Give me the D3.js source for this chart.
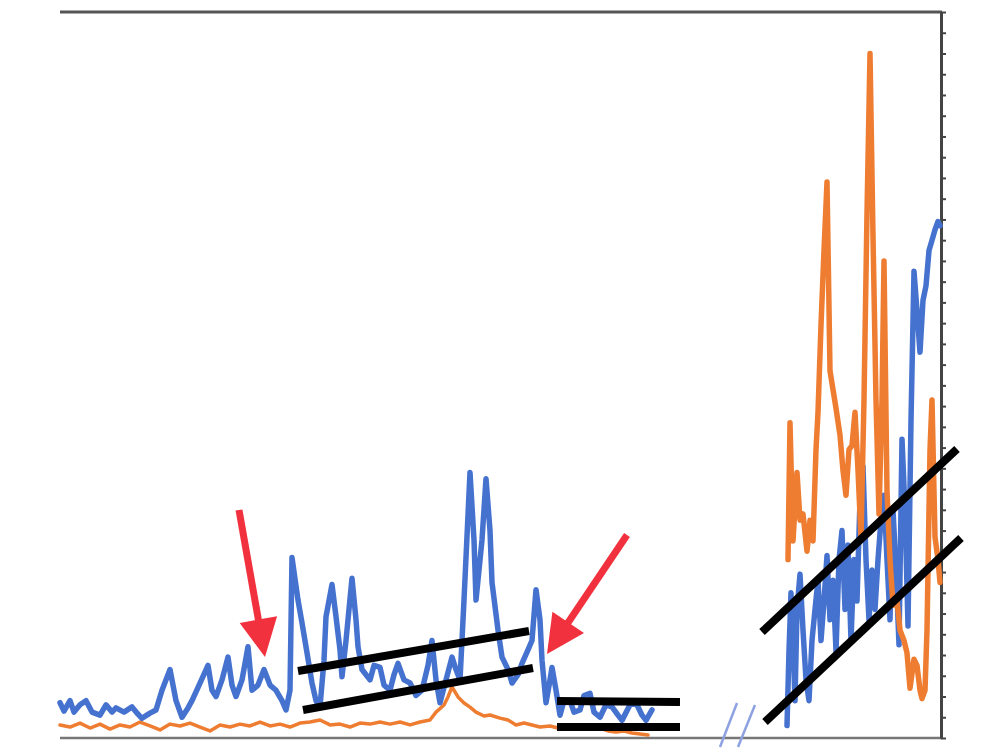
<!DOCTYPE html>
<html>
<head>
<meta charset="utf-8">
<script src="https://cdn.jsdelivr.net/npm/d3@7"></script>
<style>
  html, body { margin: 0; padding: 0; background: #fff; }
  svg { display: block; }
</style>
</head>
<body>
<svg id="chart" width="1000" height="750"></svg>
<script>
// left segment (before the axis break), time index vs value
const leftBlueT = [0,2,5,7,10,13,16,20,23,26,28,32,36,39,41,45,48,51,55,58,61,64,66,70,74,76,78,81,84,86,88,91,94,96,99,102,105,108,111,113,115,116,119,121,123,126,128,130,132,133,136,138,140,141,143,146,148,149,151,155,157,160,162,165,167,169,172,175,178,181,184,186,188,190,193,196,198,200,202,205,207,208,211,213,215,216,219,221,224,226,229,231,234,236,238,240,241,243,245,246,248,250,252,255,257,260,262,265,267,270,273,276,279,281,285,288,291,293,296];
const leftBlue = [17,13,18,12.5,16,18,12.5,11,16,12.5,14.5,12.5,15,11.5,9.5,12,13.5,23,33,18,10,14.5,18,26.5,35,23,20,28,39,25.5,20,28,44,23,25.5,33,25.5,23,18,13.5,23,87,66.5,55.5,44,26.5,18,15,37.5,58.5,74,58.5,42.5,29.5,47,77,57,44,33,28,35,34,25.5,23,30.5,36,28,26.5,20.5,23,35,47,28,17,28,39,33,28,66.5,128,95.5,66.5,95.5,125,100,75,52,39,33,26.5,30.5,36,42.5,47,71.5,57,37.5,17,28,34,23,11,18,18,12.5,13.5,20.5,21.5,12.5,10,16,15,11,8.5,16,17,11,8.5,13.5];

const leftOrangeT = [0,5,10,15,20,25,30,35,40,45,50,55,60,65,70,75,80,85,90,95,100,105,110,115,120,125,130,135,140,145,150,155,160,165,170,175,180,185,188,192,194,196,199,202,205,208,212,215,220,224,228,232,236,240,245,249,254,258,262,266,270,274,278,282,286,290,294];
const leftOrange = [6.3,5.3,7.2,4.8,6.7,4.3,6.3,5.3,7.7,5.8,3.9,6.7,5.8,7.2,5.3,3.4,6.3,5.3,6.7,5.8,7.7,5.8,6.7,5.3,7.2,7.7,8.7,6.3,6.7,5.3,7.2,6.7,7.7,6.7,7.7,6.3,7.7,8.7,12.5,15.9,19.8,24.6,19.8,16.9,14.9,12.5,10.6,11.1,9.6,8.7,6.3,7.2,6.3,5.3,5.8,4.8,5.3,4.3,5.3,4.3,4.8,3.4,2.9,3.4,2.4,1.9,1.4];

// right segment (after the axis break)
const rightBlueT = [0,1,2,3,4,5,6.5,8,9.5,11,12.5,14,15.5,17,18.5,20,21.5,23,24.5,26,27.5,29,30.5,32,33.5,35,36.5,38,39.5,41,42.5,44,45.5,47,48.5,50,51.5,53,54.5,56,57.5,59,60.5,62,63.5,65,66.5,68,69.5,71,72.5,74,75.5,76.5];
const rightBlue = [6,42,70,47,18,62,79,52,28,18,47,62,76,47,66,88,57,76,42,86,100,62,93,47,86,66,115,131,86,57,81,62,86,105,117,86,57,110,81,45,144,110,54,153,225,206,186,211,218,235,240,245,249,247];

const rightOrangeT = [0.5,1.5,3,5,6.5,8,10,11.5,13,14.5,15.5,17,18.5,20,21.5,23,24.5,26.5,28,29.5,31,32.5,34,35.5,37,38.5,40,41.5,43,44.5,46,47.5,48.5,50,51.5,53,55,56.5,58.5,60,61.5,63.5,65,66.5,67.5,69,70,71.5,72.5,74,75.5,76.5];
const rightOrange = [86,152,95,128,105,108,90,105,95,139,157,199,235,268,177,168,159,146,129,117,139,141,157,129,97,163,253,330,242,163,108,163,230,119,86,64,66,52,47,41,24,38,35,23,19,23,52,139,163,97,86,75];

const yTicks = d3.range(0, 351, 10);

const svg = d3.select('#chart');

const y = d3.scaleLinear().domain([0, 350]).range([738, 12]),
  xLeft = d3.scaleLinear().domain([0, 296]).range([60, 652]),
  xRight = d3.scaleLinear().domain([0, 76.5]).range([787, 940]);

const blue = '#4672cf',
  orange = '#ee7d32';

// frame
svg.append('line')
  .attr('x1', 60).attr('x2', 942)
  .attr('y1', y(350)).attr('y2', y(350))
  .attr('stroke', '#555').attr('stroke-width', 3);
svg.append('line')
  .attr('x1', 60).attr('x2', 942)
  .attr('y1', y(0)).attr('y2', y(0))
  .attr('stroke', '#777').attr('stroke-width', 2.5);

const yAxis = svg.append('g')
  .attr('transform', 'translate(941,0)')
  .call(d3.axisRight(y).tickValues(yTicks).tickSize(5).tickSizeOuter(0).tickFormat(''));
yAxis.select('.domain').attr('stroke', '#444').attr('stroke-width', 3);
yAxis.selectAll('.tick line').attr('stroke', '#444').attr('stroke-width', 2);

const zip = (ts, vs) => ts.map((t, i) => [t, vs[i]]);

const lineL = d3.line().x(d => xLeft(d[0])).y(d => y(d[1])),
  lineR = d3.line().x(d => xRight(d[0])).y(d => y(d[1]));

const series = [
  { data: zip(leftOrangeT, leftOrange), gen: lineL, color: orange, w: 3.5 },
  { data: zip(leftBlueT, leftBlue), gen: lineL, color: blue, w: 5.5 },
  { data: zip(rightBlueT, rightBlue), gen: lineR, color: blue, w: 5.5 },
  { data: zip(rightOrangeT, rightOrange), gen: lineR, color: orange, w: 5.5 }
];

svg.selectAll('path.series')
  .data(series)
  .join('path')
  .attr('class', 'series')
  .attr('d', d => d.gen(d.data))
  .attr('fill', 'none')
  .attr('stroke', d => d.color)
  .attr('stroke-width', d => d.w)
  .attr('stroke-linejoin', 'round')
  .attr('stroke-linecap', 'round');

// axis break marks
svg.selectAll('line.brk')
  .data([[737, 703, 720, 747], [755, 705, 738, 747]])
  .join('line')
  .attr('class', 'brk')
  .attr('x1', d => d[0]).attr('y1', d => d[1])
  .attr('x2', d => d[2]).attr('y2', d => d[3])
  .attr('stroke', '#8ea2e2').attr('stroke-width', 2.5);

// hand-drawn black marker lines
const marks = [
  [298, 671, 529, 631],
  [303, 710, 533, 668],
  [557, 701, 680, 702],
  [557, 727, 680, 727],
  [762, 632, 957, 449],
  [765, 722, 961, 538]
];
svg.selectAll('line.mark')
  .data(marks)
  .join('line')
  .attr('class', 'mark')
  .attr('x1', d => d[0]).attr('y1', d => d[1])
  .attr('x2', d => d[2]).attr('y2', d => d[3])
  .attr('stroke', '#000').attr('stroke-width', 8);

// red arrows: shaft start, head tip, head half-width, head length
const arrows = [
  { x0: 239, y0: 510, x1: 265, y1: 657, hw: 19, hl: 38 },
  { x0: 627, y0: 535, x1: 547, y1: 654, hw: 19, hl: 38 }
];
const red = '#f2313f';
arrows.forEach(a => {
  const dx = a.x1 - a.x0, dy = a.y1 - a.y0, len = Math.hypot(dx, dy),
    ux = dx / len, uy = dy / len,
    bx = a.x1 - ux * a.hl, by = a.y1 - uy * a.hl;
  svg.append('line')
    .attr('x1', a.x0).attr('y1', a.y0)
    .attr('x2', bx + ux * 4).attr('y2', by + uy * 4)
    .attr('stroke', red).attr('stroke-width', 7);
  svg.append('path')
    .attr('d', `M${a.x1},${a.y1}L${bx - uy * a.hw},${by + ux * a.hw}L${bx + uy * a.hw},${by - ux * a.hw}Z`)
    .attr('fill', red);
});
</script>
</body>
</html>
